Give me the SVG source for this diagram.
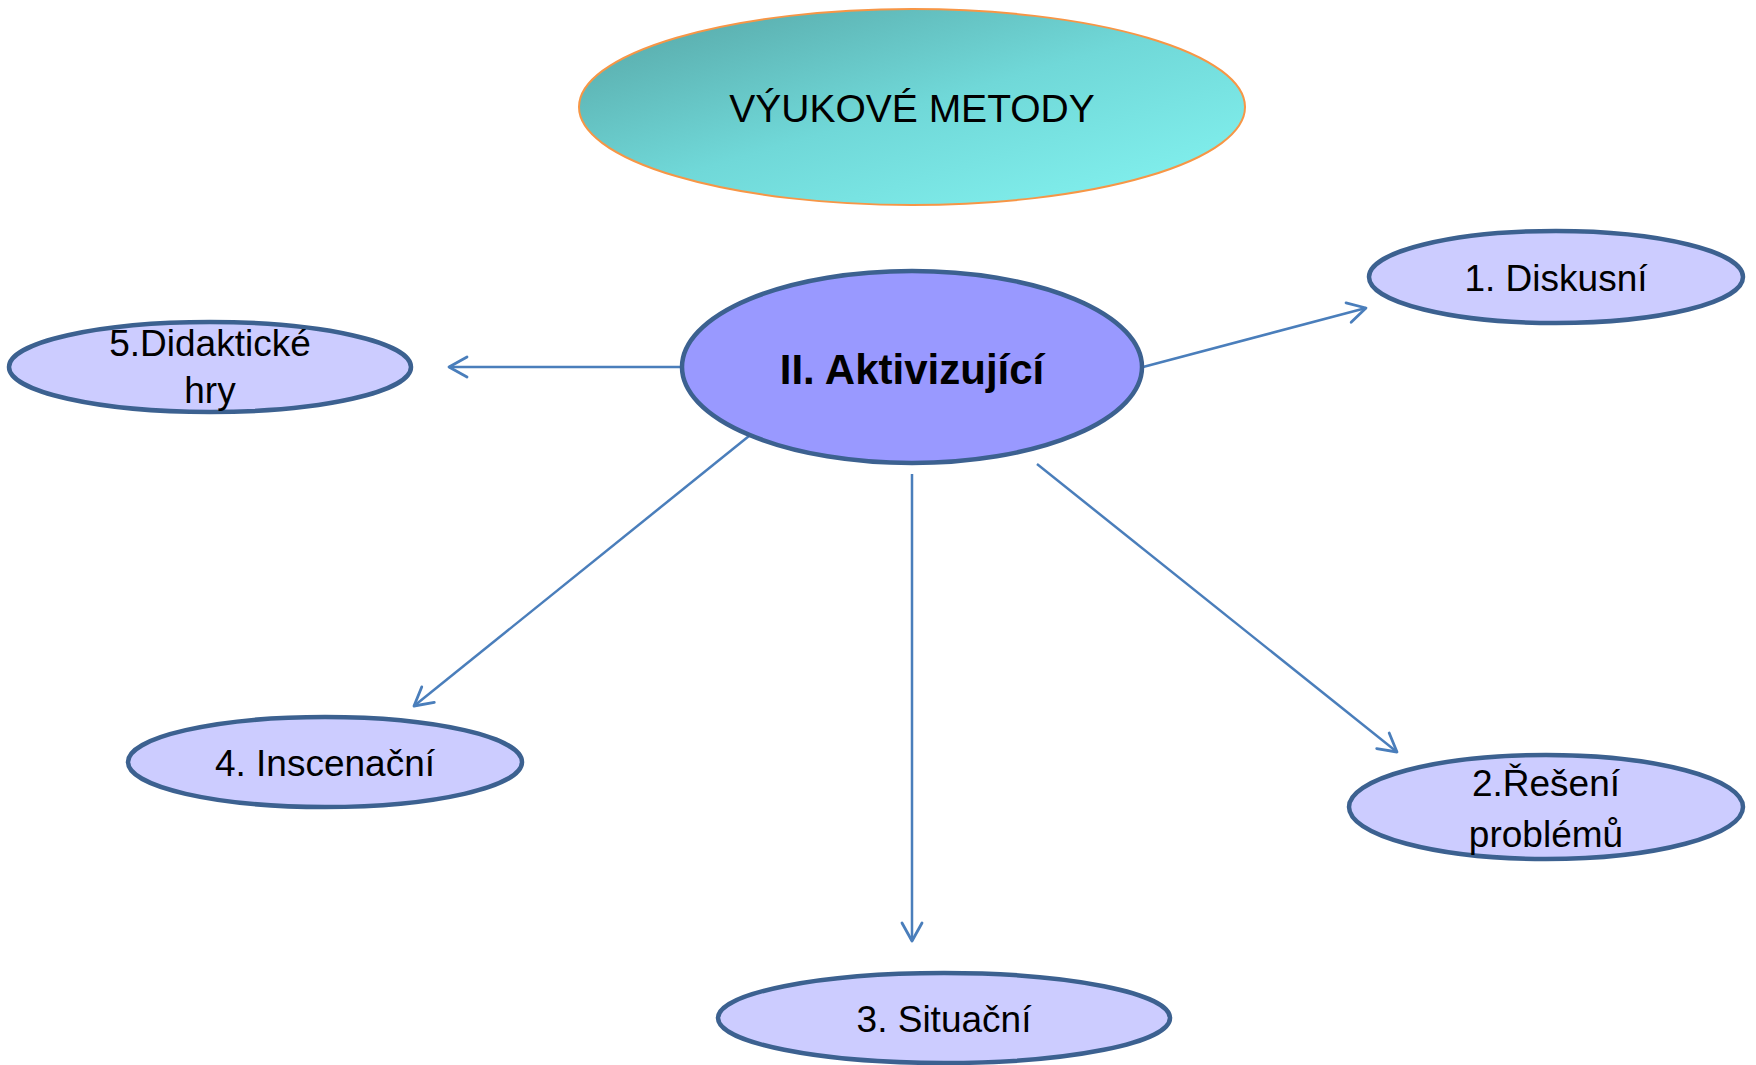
<svg xmlns="http://www.w3.org/2000/svg" width="1756" height="1065" viewBox="0 0 1756 1065">
<style>
.node{fill:#CCCCFF;stroke:#3C6190;stroke-width:4.5}
.center{fill:#9999FF;stroke:#3C6190;stroke-width:4.5}
.lbl{font-family:"Liberation Sans",Arial,sans-serif;font-size:37px;fill:#000;text-anchor:middle}
.conn{stroke:#4A7EBB;stroke-width:2.5;fill:none;marker-end:url(#arr)}
</style>
<defs>
<linearGradient id="tg" x1="0" y1="0" x2="1" y2="1">
<stop offset="0" stop-color="#55A3A3"/>
<stop offset="0.5" stop-color="#70D8D8"/>
<stop offset="1" stop-color="#85F5F2"/>
</linearGradient>
<marker id="arr" markerUnits="userSpaceOnUse" markerWidth="44" markerHeight="44" viewBox="-22 -22 44 44" refX="0" refY="0" orient="auto">
<path d="M-18,-10 L0,0 L-18,10" fill="none" stroke="#4A7EBB" stroke-width="2.8" stroke-linecap="round" stroke-linejoin="round"/>
</marker>
</defs>
<g id="connectors">
<line class="conn" x1="1143" y1="367" x2="1366" y2="308"/>
<line class="conn" x1="682" y1="367" x2="449" y2="367"/>
<line class="conn" x1="749" y1="436" x2="414" y2="706"/>
<line class="conn" x1="912" y1="474" x2="912" y2="941"/>
<line class="conn" x1="1037" y1="464" x2="1397" y2="752"/>
</g>
<g id="title">
<ellipse cx="912" cy="107" rx="333" ry="98" fill="url(#tg)" stroke="#F79646" stroke-width="2"/>
<text x="912" y="122" class="lbl" style="font-size:39px">VÝUKOVÉ METODY</text>
</g>
<g id="center">
<ellipse class="center" cx="912" cy="367" rx="230" ry="96"/>
<text x="912" y="384" class="lbl" style="font-size:42px;font-weight:bold">II. Aktivizující</text>
</g>
<g id="n1">
<ellipse class="node" cx="1556" cy="277" rx="187" ry="46"/>
<text x="1556" y="291" class="lbl">1. Diskusní</text>
</g>
<g id="n2">
<ellipse class="node" cx="1546" cy="807" rx="197" ry="52"/>
<text x="1546" y="796" class="lbl">2.Řešení</text>
<text x="1546" y="847" class="lbl">problémů</text>
</g>
<g id="n3">
<ellipse class="node" cx="944" cy="1018" rx="226" ry="45"/>
<text x="944" y="1032" class="lbl">3. Situační</text>
</g>
<g id="n4">
<ellipse class="node" cx="325" cy="762" rx="197" ry="45"/>
<text x="325" y="776" class="lbl">4. Inscenační</text>
</g>
<g id="n5">
<ellipse class="node" cx="210" cy="367" rx="201" ry="45"/>
<text x="210" y="356" class="lbl">5.Didaktické</text>
<text x="210" y="403" class="lbl">hry</text>
</g>
</svg>
